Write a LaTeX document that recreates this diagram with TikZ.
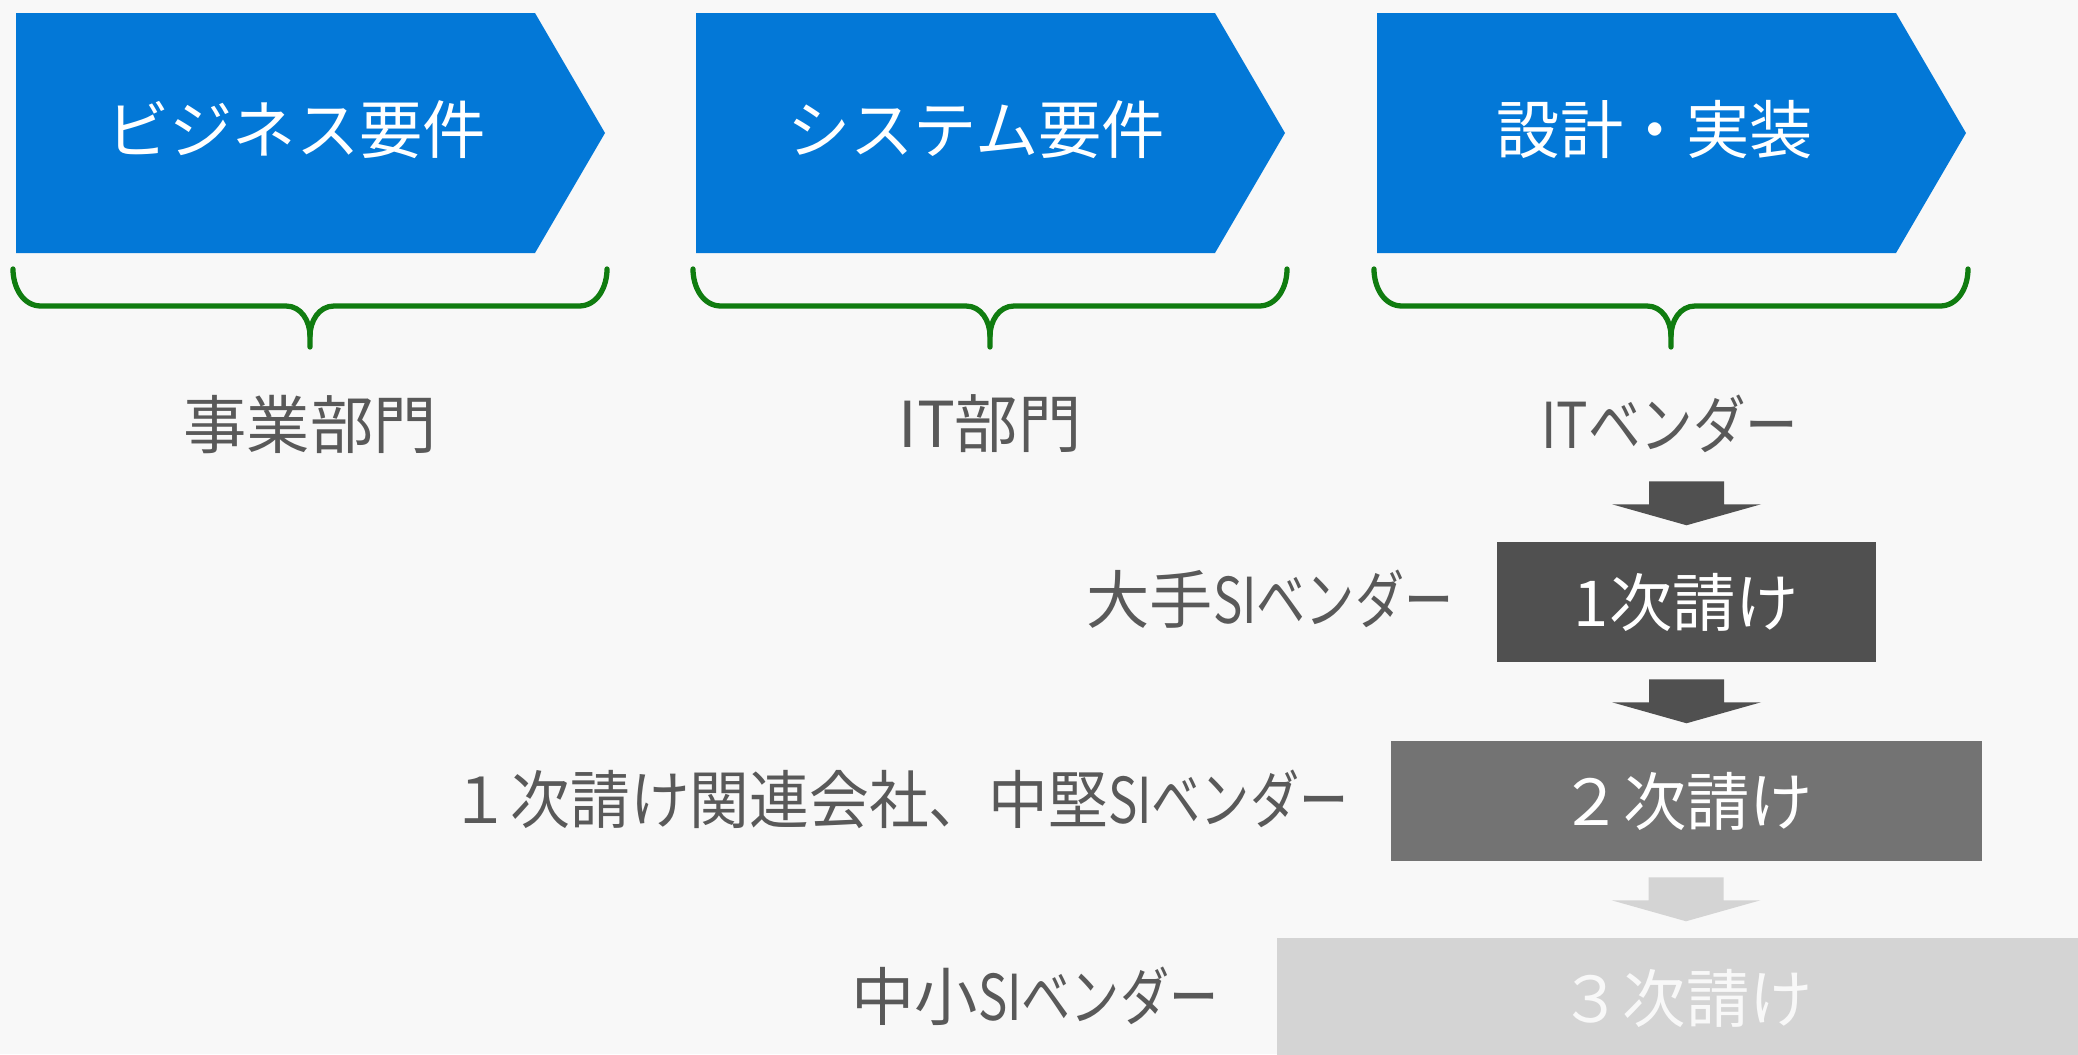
\documentclass[tikz,border=0pt]{standalone}
\usepackage{fontspec}
\usepackage{graphicx}
\setmainfont{Noto Sans CJK JP}
\usetikzlibrary{calc}
\definecolor{bgc}{HTML}{F8F8F8}
\definecolor{chev}{RGB}{3,120,215}
\definecolor{brc}{RGB}{16,124,16}
\definecolor{lbl}{HTML}{595959}
\definecolor{gA}{HTML}{505050}
\definecolor{gB}{HTML}{737373}
\definecolor{gC}{HTML}{D4D4D4}
\newcommand\narrowtxt[2]{\scalebox{#1}[1]{#2}}
\tikzset{
  chevtext/.style={text=white, font=\fontsize{18pt}{20pt}\selectfont, inner sep=0pt},
  brace/.style={draw=brc, line width=1.5pt, line cap=round, line join=round},
  toplabel/.style={text=lbl, font=\fontsize{18pt}{20pt}\selectfont, inner sep=0pt},
  sidelabel/.style={text=lbl, font=\fontsize{18pt}{20pt}\selectfont, inner sep=0pt, anchor=east},
  tierbox/.style={minimum height=1.2cm, inner sep=0pt, font=\fontsize{18pt}{20pt}\selectfont},
}
\newcommand\chevronshape[1]{%
  \fill[chev] (#1,13) -- ++(519,0) -- ++(70,120) -- ++(-70,120) -- ++(-519,0) -- cycle;}
\newcommand\bracepath[2]{% left, right
  \pgfmathsetmacro\bm{(#1+#2)/2}%
  \draw[brace] (#1,269) to[out=-90,in=180] (#1+28,306) -- (\bm-24,306)
     to[out=0,in=90] (\bm,336) -- (\bm,347);
  \draw[brace] (#2,269) to[out=-90,in=0] (#2-28,306) -- (\bm+24,306)
     to[out=180,in=90] (\bm,336);}
\newcommand\blockarrow[2]{% colour, tip coordinate
  \fill[#1] ($(#2)+(-37.5,-44)$) -- ($(#2)+(37.5,-44)$) -- ($(#2)+(37.5,-21)$)
    -- ($(#2)+(74.5,-21)$) -- (#2) -- ($(#2)+(-74.5,-21)$) -- ($(#2)+(-37.5,-21)$) -- cycle;}
\begin{document}
\begin{tikzpicture}[x=0.01cm, y=-0.01cm]
\useasboundingbox (0,0) rectangle (2078,1054);
\fill[bgc] (0,0) rectangle (2078,1054);
\clip (0,0) rectangle (2078,1054);

% chevrons
\chevronshape{16}
\chevronshape{696}
\chevronshape{1377}
\node[chevtext] (c1) at (296,130) {ビジネス要件};
\node[chevtext] (c2) at (976,130) {システム要件};
\node[chevtext] (c3) at (1655,130) {設計・実装};

% braces
\bracepath{13}{607}
\bracepath{693}{1287}
\bracepath{1374}{1968}

% labels under braces
\node[toplabel] (l1) at (310,424) {事業部門};
\node[toplabel] (l2) at (990,424) {IT部門};
\node[toplabel] (l3) at (1670,424) {\narrowtxt{0.83}{ITベンダー}};

% tier boxes
\node[tierbox, fill=gA, text=white, minimum width=3.79cm] (b1) at (1686.5,602) {1次請け};
\node[tierbox, fill=gB, text=white, minimum width=5.90cm] (b2) at (1686.5,801) {２次請け};
\node[tierbox, fill=gC, text=bgc, minimum width=8.18cm] (b3) at (1686,998) {３次請け};

% side labels
\node[sidelabel] (s1) at (1454,599) {大手\narrowtxt{0.776}{SIベンダー}};
\node[sidelabel] (s2) at (1349,799) {\narrowtxt{0.944}{１次請け関連会社、中堅}\narrowtxt{0.776}{SIベンダー}};
\node[sidelabel] (s3) at (1219,996) {中小\narrowtxt{0.776}{SIベンダー}};

% block arrows
\coordinate (t1) at ($(b1.north)+(0,-16)$);
\coordinate (t2) at ($(b2.north)+(0,-17)$);
\coordinate (t3) at ($(b3.north)+(0,-16)$);
\blockarrow{gA}{t1}
\blockarrow{gA}{t2}
\blockarrow{gC}{t3}
\end{tikzpicture}
\end{document}
